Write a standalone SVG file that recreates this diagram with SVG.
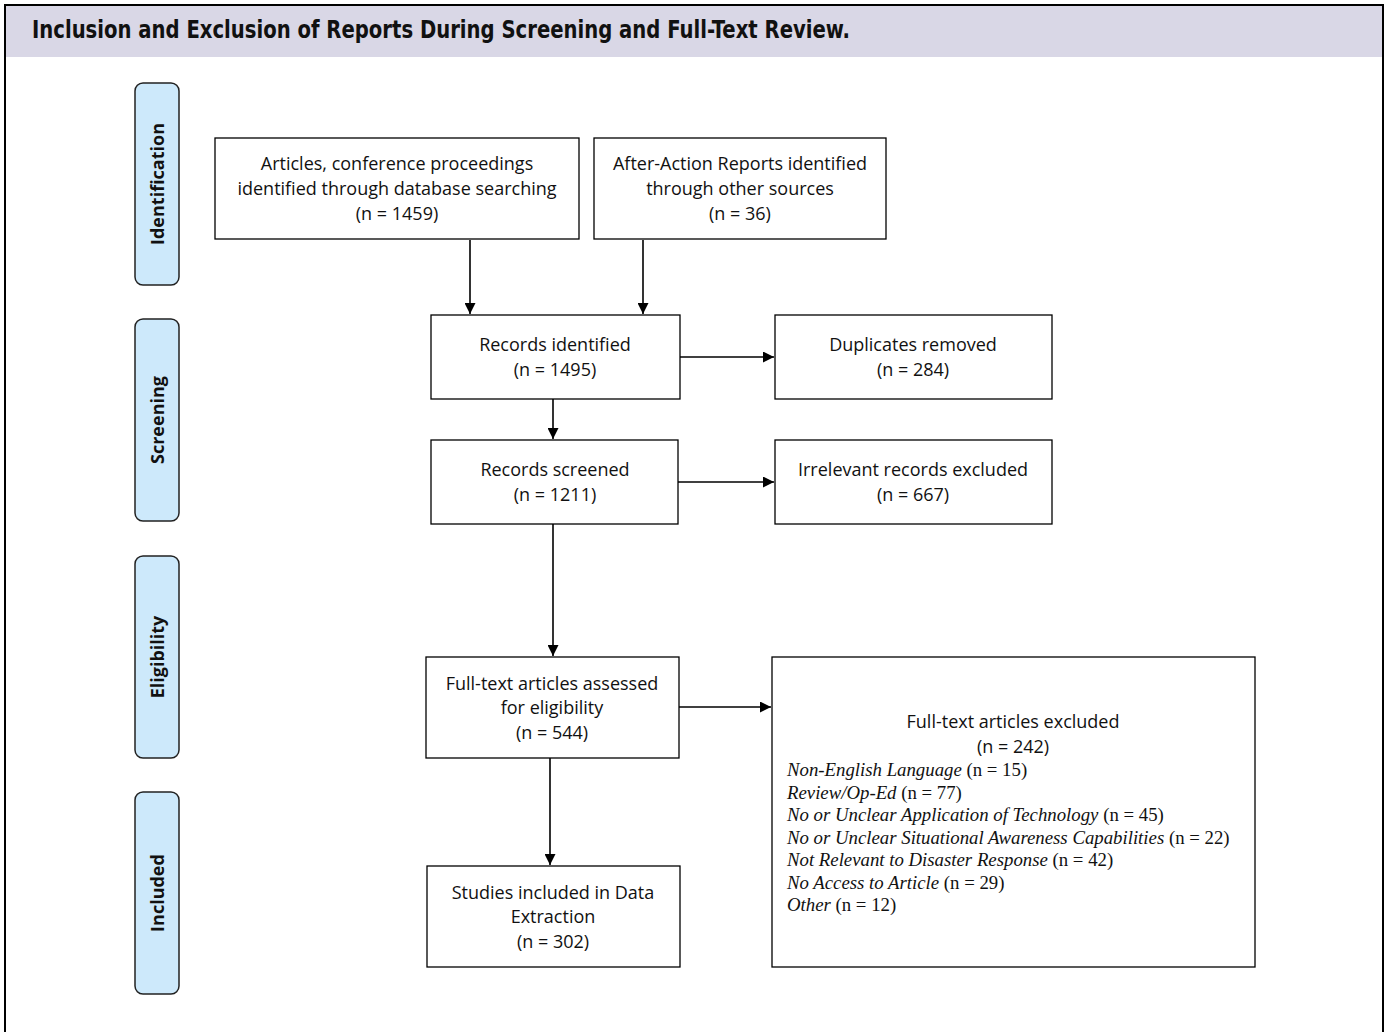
<svg xmlns="http://www.w3.org/2000/svg" width="1392" height="1032" viewBox="0 0 1392 1032">
<defs>
<marker id="ah" viewBox="0 0 10 10" refX="10" refY="5" markerWidth="11" markerHeight="11" markerUnits="userSpaceOnUse" orient="auto">
<path d="M0,0 L10,5 L0,10 z" fill="#000"/>
</marker>
<style>
.box{fill:#fff;stroke:#000;stroke-width:1.3}
.phase{fill:#cde9fb;stroke:#222;stroke-width:1.5}
.t{font-family:"Open Sans","Noto Sans",sans-serif;font-size:18px;fill:#111;text-anchor:middle}
.p{font-family:"Open Sans","Noto Sans",sans-serif;font-size:18px;font-weight:bold;fill:#111;text-anchor:middle}
.l{font-family:"Liberation Serif",serif;font-size:18.8px;fill:#111}
.c{stroke:#000;stroke-width:1.6;fill:none;marker-end:url(#ah)}
</style>
</defs>
<rect x="0" y="0" width="1392" height="1032" fill="#fff"/>
<rect x="5" y="5" width="1378" height="52" fill="#d9d7e6"/>
<path d="M5,1032 V5 H1383 V1032" fill="none" stroke="#000" stroke-width="2"/>
<text x="32" y="38" font-family="'DejaVu Sans Condensed','DejaVu Sans',sans-serif" font-weight="bold" font-size="24" textLength="818" lengthAdjust="spacingAndGlyphs" fill="#111">Inclusion and Exclusion of Reports During Screening and Full-Text Review.</text>

<g id="phase-identification"><rect class="phase" x="135" y="83" width="44" height="202" rx="8"/><text class="p" transform="translate(164,184) rotate(-90)">Identification</text></g>
<g id="phase-screening"><rect class="phase" x="135" y="319" width="44" height="202" rx="8"/><text class="p" transform="translate(164,420) rotate(-90)">Screening</text></g>
<g id="phase-eligibility"><rect class="phase" x="135" y="556" width="44" height="202" rx="8"/><text class="p" transform="translate(164,657) rotate(-90)">Eligibility</text></g>
<g id="phase-included"><rect class="phase" x="135" y="792" width="44" height="202" rx="8"/><text class="p" transform="translate(164,893) rotate(-90)">Included</text></g>

<g id="n-articles"><rect class="box" x="215" y="138" width="364" height="101"/>
<text class="t" x="397" y="170">Articles, conference proceedings</text>
<text class="t" x="397" y="195">identified through database searching</text>
<text class="t" x="397" y="220">(n = 1459)</text></g>
<g id="n-afteraction"><rect class="box" x="594" y="138" width="292" height="101"/>
<text class="t" x="740" y="170">After-Action Reports identified</text>
<text class="t" x="740" y="195">through other sources</text>
<text class="t" x="740" y="220">(n = 36)</text></g>
<g id="n-identified"><rect class="box" x="431" y="315" width="249" height="84"/>
<text class="t" x="555" y="351">Records identified</text>
<text class="t" x="555" y="376">(n = 1495)</text></g>
<g id="n-duplicates"><rect class="box" x="775" y="315" width="277" height="84"/>
<text class="t" x="913" y="351">Duplicates removed</text>
<text class="t" x="913" y="376">(n = 284)</text></g>
<g id="n-screened"><rect class="box" x="431" y="440" width="247" height="84"/>
<text class="t" x="555" y="476">Records screened</text>
<text class="t" x="555" y="501">(n = 1211)</text></g>
<g id="n-irrelevant"><rect class="box" x="775" y="440" width="277" height="84"/>
<text class="t" x="913" y="476">Irrelevant records excluded</text>
<text class="t" x="913" y="501">(n = 667)</text></g>
<g id="n-fulltext"><rect class="box" x="426" y="657" width="253" height="101"/>
<text class="t" x="552" y="690">Full-text articles assessed</text>
<text class="t" x="552" y="714">for eligibility</text>
<text class="t" x="552" y="739">(n = 544)</text></g>
<g id="n-excluded"><rect class="box" x="772" y="657" width="483" height="310"/>
<text class="t" x="1013" y="728">Full-text articles excluded</text>
<text class="t" x="1013" y="753">(n = 242)</text>
<text class="l" x="787" y="776"><tspan font-style="italic">Non-English Language</tspan> (n = 15)</text>
<text class="l" x="787" y="799"><tspan font-style="italic">Review/Op-Ed</tspan> (n = 77)</text>
<text class="l" x="787" y="821"><tspan font-style="italic">No or Unclear Application of Technology</tspan> (n = 45)</text>
<text class="l" x="787" y="844"><tspan font-style="italic">No or Unclear Situational Awareness Capabilities</tspan> (n = 22)</text>
<text class="l" x="787" y="866"><tspan font-style="italic">Not Relevant to Disaster Response</tspan> (n = 42)</text>
<text class="l" x="787" y="889"><tspan font-style="italic">No Access to Article</tspan> (n = 29)</text>
<text class="l" x="787" y="911"><tspan font-style="italic">Other</tspan> (n = 12)</text></g>
<g id="n-included"><rect class="box" x="427" y="866" width="253" height="101"/>
<text class="t" x="553" y="899">Studies included in Data</text>
<text class="t" x="553" y="923">Extraction</text>
<text class="t" x="553" y="948">(n = 302)</text></g>

<g id="connectors">
<path class="c" d="M470,240 V314"/>
<path class="c" d="M643,240 V314"/>
<path class="c" d="M680,357 H774"/>
<path class="c" d="M553,399 V439"/>
<path class="c" d="M678,482 H774"/>
<path class="c" d="M553,524 V656"/>
<path class="c" d="M679,707 H771"/>
<path class="c" d="M550,758 V865"/>
</g>
</svg>
